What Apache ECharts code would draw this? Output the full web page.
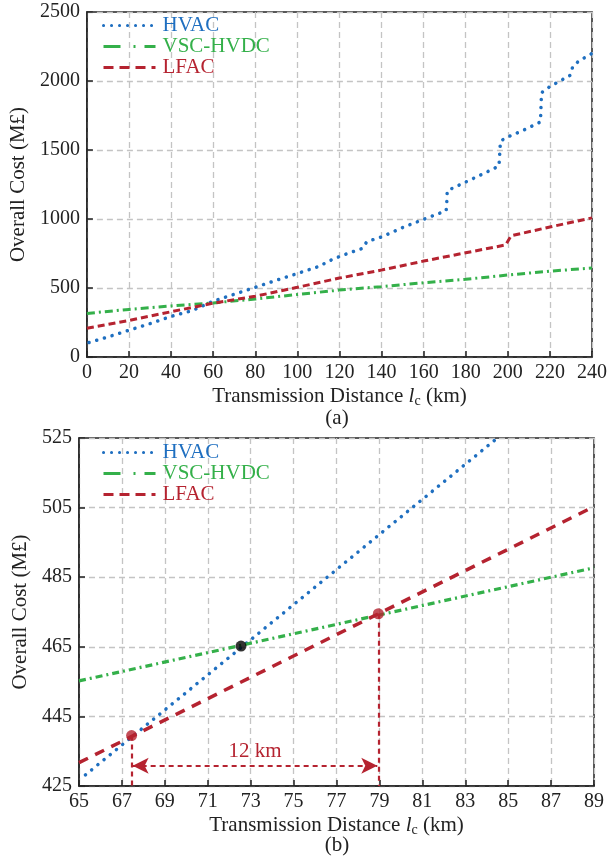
<!DOCTYPE html>
<html>
<head>
<meta charset="utf-8">
<script src="https://cdn.jsdelivr.net/npm/echarts@6/dist/echarts.min.js"></script>
<style>html,body{margin:0;padding:0;background:#fff}#c{width:610px;height:861px}</style>
</head>
<body>
<div id="c"></div>
<script>
// ---- Data (panel a) ----
const hvacA = [[1,105],[10,145],[20,194],[30,242],[40,294],[50,336],[60,404],[70,455],[80,505],[90,556],[100,605],[110,655],[117,710],[124,751],[131,787],[133,836],[140,870],[150,938],[160,998],[170.7,1060],[171,1125],[171.2,1205],[180,1268],[190,1340],[195.8,1384],[196.5,1565],[200,1595],[207,1640],[215.5,1703],[216,1915],[220,1960],[229.5,2040],[231,2110],[234,2147],[240,2200]];
const vscA = [[0,316],[20,345],[40,370],[60,392],[80,420],[100,453],[120,485],[140,510],[160,538],[180,563],[200,594],[220,622],[240,645]];
const lfacA = [[0,208],[20,265],[40,328],[60,390],[80,440],[100,505],[120,572],[140,630],[160,695],[180,755],[199,812],[201.5,878],[220,942],[240,1008]];
// ---- Data (panel b) ----
const hvacB = [[65.3,428.2],[84.4,524.5]];
const vscB = [[65,455.2],[89,487.7]];
const lfacB = [[65,431.7],[89,505.3]];
const crossBlack = [[72.55,465.2]];
const crossRed = [[67.45,439.5],[78.95,474.5]];
const gapY = 430.8;
const gapLabel = '12 km';
const seriesNames = ['HVAC','VSC-HVDC','LFAC'];
const captions = ['(a)','(b)'];

const BLUE='#1f6fc0', GREEN='#34b04a', RED='#b52330', FONT="'Liberation Serif','Times New Roman',serif";
const TXT='#222';
const chart = echarts.init(document.getElementById('c'), null, {renderer:'canvas'});

function xAx(gi, min, max, interval){
  return {gridIndex:gi, type:'value', min, max, interval,
    name:'Transmission Distance {i|l}{s|c} (km)', nameLocation:'middle', nameGap:27,
    nameTextStyle:{fontFamily:FONT, fontSize:21, color:TXT,
      rich:{i:{fontFamily:FONT,fontSize:21,fontStyle:'italic',color:TXT},
            s:{fontFamily:FONT,fontSize:14,color:TXT,padding:[10,0,0,0]}}},
    axisLine:{show:true,lineStyle:{color:'#222',width:1.5}},
    axisTick:{show:true,inside:true,length:6,lineStyle:{color:'#222',width:1.5}},
    axisLabel:{fontFamily:FONT,fontSize:20,color:TXT,margin:6,formatter:v=>String(v)},
    splitLine:{show:true,lineStyle:{color:'#c4c4c4',width:1.3,type:[6,4]}}};
}
function yAx(gi, min, max, interval){
  return {gridIndex:gi, type:'value', min, max, interval,
    name:'Overall Cost (M£)', nameLocation:'middle', nameGap:48,
    nameTextStyle:{fontFamily:FONT, fontSize:21, color:TXT},
    axisLine:{show:true,lineStyle:{color:'#222',width:1.5}},
    axisTick:{show:true,inside:true,length:6,lineStyle:{color:'#222',width:1.5}},
    axisLabel:{fontFamily:FONT,fontSize:20,color:TXT,margin:7,formatter:v=>String(v)},
    splitLine:{show:true,lineStyle:{color:'#c4c4c4',width:1.3,type:[6,4]}}};
}
function legendAt(top){
  return {orient:'vertical', left:102, top, padding:0, itemWidth:52, itemHeight:14, itemGap:0,
    textStyle:{fontFamily:FONT,fontSize:21,lineHeight:20,padding:[0,0,0,2]},
    lineStyle:{width:3},
    itemStyle:{opacity:0, color:'transparent', borderWidth:0},
    data:[{name:seriesNames[0],textStyle:{color:BLUE}},
          {name:seriesNames[1],textStyle:{color:GREEN},lineStyle:{type:[17,13,2,9]}},
          {name:seriesNames[2],textStyle:{color:RED},lineStyle:{type:[10,6]}}]};
}
function ln(name, data, gi, color, type, width, cap){
  return {name, type:'line', data, xAxisIndex:gi, yAxisIndex:gi, symbol:'none', showSymbol:false,
    color, lineStyle:{color, width, type, cap:cap||'butt'}, z:3, silent:true};
}

const markStyle = {color:RED, width:2.2, type:[5,4]};
const option = {
  animation:false,
  textStyle:{fontFamily:FONT},
  grid:[{left:79, top:12, width:515, height:345, show:true, borderColor:'#222', borderWidth:1.5, backgroundColor:'transparent'},
        {left:79, top:438, width:515, height:348, show:true, borderColor:'#222', borderWidth:1.5, backgroundColor:'transparent'}],
  xAxis:[xAx(0,0,240,20), xAx(1,65,89,2)],
  yAxis:[yAx(0,0,2500,500), yAx(1,425,525,20)],
  legend:[legendAt(15), legendAt(442)],
  graphic:[
    {type:'text', x:337, y:418, style:{text:captions[0], font:"21px "+FONT, fill:TXT, align:'center', verticalAlign:'middle'}},
    {type:'text', x:337, y:845, style:{text:captions[1], font:"21px "+FONT, fill:TXT, align:'center', verticalAlign:'middle'}}
  ],
  series:[
    ln(seriesNames[0], hvacA, 0, BLUE, [0.1,7.9], 3.5, 'round'),
    ln(seriesNames[1], vscA, 0, GREEN, [8,4,2,4], 3),
    ln(seriesNames[2], lfacA, 0, RED, [7,4], 3),
    ln(seriesNames[0], hvacB, 1, BLUE, [0.1,7.9], 3.5, 'round'),
    ln(seriesNames[1], vscB, 1, GREEN, [7,4,2,4], 3.2),
    ln(seriesNames[2], lfacB, 1, RED, [10,8], 3.5),
    {type:'scatter', xAxisIndex:1, yAxisIndex:1, data:crossBlack, symbol:'circle', symbolSize:11,
     itemStyle:{color:'#000'}, z:5, silent:true},
    {type:'scatter', xAxisIndex:1, yAxisIndex:1, data:crossRed, symbol:'circle', symbolSize:11,
     itemStyle:{color:RED}, z:5, silent:true,
     markLine:{silent:true, symbol:['none','none'], animation:false, label:{show:false}, lineStyle:markStyle,
       data:[
         [{coord:[crossRed[0][0],crossRed[0][1]]},{coord:[crossRed[0][0],425]}],
         [{coord:[crossRed[1][0],crossRed[1][1]]},{coord:[crossRed[1][0],425]}],
         [{coord:[crossRed[0][0]+0.05,gapY], symbol:'arrow', symbolSize:[12,16],
           label:{show:true, formatter:gapLabel, position:'middle', color:RED, fontFamily:FONT, fontSize:21, distance:4}},
          {coord:[crossRed[1][0]-0.05,gapY], symbol:'arrow', symbolSize:[12,16]}]
       ]}}
  ]
};
chart.setOption(option);
</script>
</body>
</html>
